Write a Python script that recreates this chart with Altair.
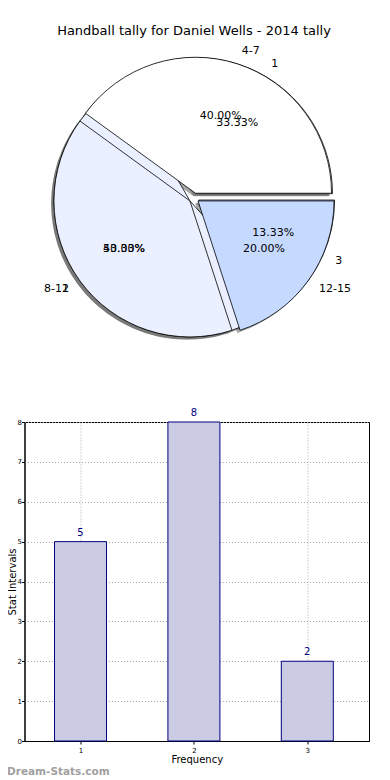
import math
import altair as alt
import pandas as pd

TITLE = "Handball tally for Daniel Wells - 2014 tally"

# pie drawn on top (ranges)
range_labels = ["4-7", "8-11", "12-15"]
range_counts = [6, 6, 3]
# pie drawn underneath (ranks)
rank_labels = ["1", "2", "3"]
rank_counts = [5, 8, 2]
# bar chart
freq_x = [1, 2, 3]
freq_y = [5, 8, 2]
y_ticks = [0, 1, 2, 3, 4, 5, 6, 7, 8]
x_ticks = [1, 2, 3]
watermark = ["Dream-Stats.com"]

wedge_colors = ["#ffffff", "#eaf0ff", "#c6d9ff"]
FONT = "DejaVu Sans"

P = 25.5              # expected page x of the plot-area left edge
BAR_W, BAR_H = 370 - P, 319
PIE_W, PIE_H = BAR_W, 369
R = 136
CX, CY = 195 - P, 160
EXPLODE = 5

theta_scale = alt.Scale(domain=[0, 1], range=[math.pi / 2 + 2 * math.pi, math.pi / 2])


def pie_base(labels, counts):
    df = pd.DataFrame({"label": labels, "count": counts, "idx": list(range(len(labels)))})
    return (
        alt.Chart(df)
        .transform_joinaggregate(total="sum(count)")
        .transform_window(cum="sum(count)", sort=[alt.SortField("idx")], frame=[None, 0])
        .transform_calculate(
            f1="datum.cum / datum.total",
            f0="(datum.cum - datum.count) / datum.total",
            fm="(datum.cum - datum.count / 2) / datum.total",
            pct="format(datum.count / datum.total * 100, '.2f') + '%'",
        )
    )


def mid_angles(counts):
    tot = sum(counts)
    out, c = [], 0
    for v in counts:
        out.append(2 * math.pi * (c + v / 2) / tot)
        c += v
    return out


def pie_parts(labels, counts, explode):
    base = pie_base(labels, counts)
    shadows, wedges, texts = [], [], []
    for i, ang in enumerate(mid_angles(counts)):
        dx = explode * math.cos(ang)
        dy = -explode * math.sin(ang)
        part = base.transform_filter(f"datum.idx == {i}")
        pos = dict(x=alt.value(CX), y=alt.value(CY))
        th = dict(theta=alt.Theta("f0:Q", scale=theta_scale), theta2="f1:Q")
        shadows.append(
            part.mark_arc(radius=R, fill="#4d4d4d", opacity=0.5,
                          xOffset=dx - 2.8, yOffset=dy + 2.6)
            .encode(**th, **pos)
        )
        wedges.append(
            part.mark_arc(radius=R, fill=wedge_colors[i], stroke="black", strokeWidth=0.8,
                          xOffset=dx, yOffset=dy)
            .encode(**th, **pos)
        )
        align = "left" if math.cos(ang) >= 0 else "right"
        texts.append(
            part.mark_text(radius=R * 1.1, align=align, baseline="middle", fontSize=11,
                           font=FONT, color="black", xOffset=dx, yOffset=dy)
            .encode(theta=alt.Theta("fm:Q", scale=theta_scale), text="label:N", **pos)
        )
        texts.append(
            part.mark_text(radius=R * 0.6, align="center", baseline="middle", fontSize=11,
                           font=FONT, color="black", xOffset=dx, yOffset=dy)
            .encode(theta=alt.Theta("fm:Q", scale=theta_scale), text="pct:N", **pos)
        )
    return shadows, wedges, texts


sB, wB, tB = pie_parts(rank_labels, rank_counts, EXPLODE)
sA, wA, tA = pie_parts(range_labels, range_counts, EXPLODE)

pie = alt.layer(*sB, *sA, *wB, *wA, *tB, *tA).properties(
    width=PIE_W,
    height=PIE_H,
    view=alt.ViewBackground(strokeOpacity=0, strokeWidth=0),
    title=alt.TitleParams(TITLE, fontSize=13, font=FONT, fontWeight="normal",
                          anchor="middle", offset=0, color="black",
                          dx=195 - (P + PIE_W / 2)),
)

# ---------------- bar chart ----------------
bar_df = pd.DataFrame({"freq": freq_x, "val": freq_y})

xenc = alt.X(
    "freq:Q",
    scale=alt.Scale(domain=[0.55, 3.5], nice=False, zero=False),
    axis=alt.Axis(values=x_ticks, format="d", title="Frequency", labelFontSize=7,
                  titleFontSize=10, titleFontWeight="normal", titlePadding=1,
                  labelPadding=2, tickSize=3, grid=True, gridDash=[1, 2],
                  gridColor="#a8a8a8", domainColor="black", tickColor="black",
                  labelFont=FONT, titleFont=FONT, labelColor="black", titleColor="black"),
)
yenc = alt.Y(
    "val:Q",
    scale=alt.Scale(domain=[0, 8], nice=False),
    axis=alt.Axis(values=y_ticks, format="d", title="Stat Intervals", labelFontSize=7,
                  titleFontSize=10, titleFontWeight="normal", titlePadding=0,
                  labelPadding=0, tickSize=3, grid=True, gridDash=[1, 2],
                  gridColor="#a8a8a8", domainColor="black", tickColor="black",
                  labelFont=FONT, titleFont=FONT, labelColor="black", titleColor="black"),
)

bars = alt.Chart(bar_df).mark_bar(width=52, fill="#cbcbe4", stroke="#000080",
                                  strokeWidth=1).encode(x=xenc, y=yenc)
bar_text = alt.Chart(bar_df).mark_text(dy=-4, baseline="bottom", color="#000080",
                                       fontSize=10, font=FONT).encode(
    x=xenc, y=yenc, text="val:Q")
wm = alt.Chart(pd.DataFrame({"t": watermark})).mark_text(
    align="left", baseline="alphabetic", color="#a0a0a0", fontSize=10.5,
    fontWeight="bold", font=FONT).encode(text="t:N", x=alt.value(8 - P), y=alt.value(353))

bar = alt.layer(bars, bar_text, wm).properties(
    width=BAR_W, height=BAR_H,
    view=alt.ViewBackground(stroke="black", strokeWidth=1),
)

chart = (
    alt.vconcat(pie, bar, spacing=0)
    .properties(padding={"left": -1.5, "top": 17, "right": 0, "bottom": 0})
    .configure_view(strokeWidth=0)
    .configure(font=FONT)
)

chart.save("out.html", embed_options={"renderer": "svg", "actions": False})
